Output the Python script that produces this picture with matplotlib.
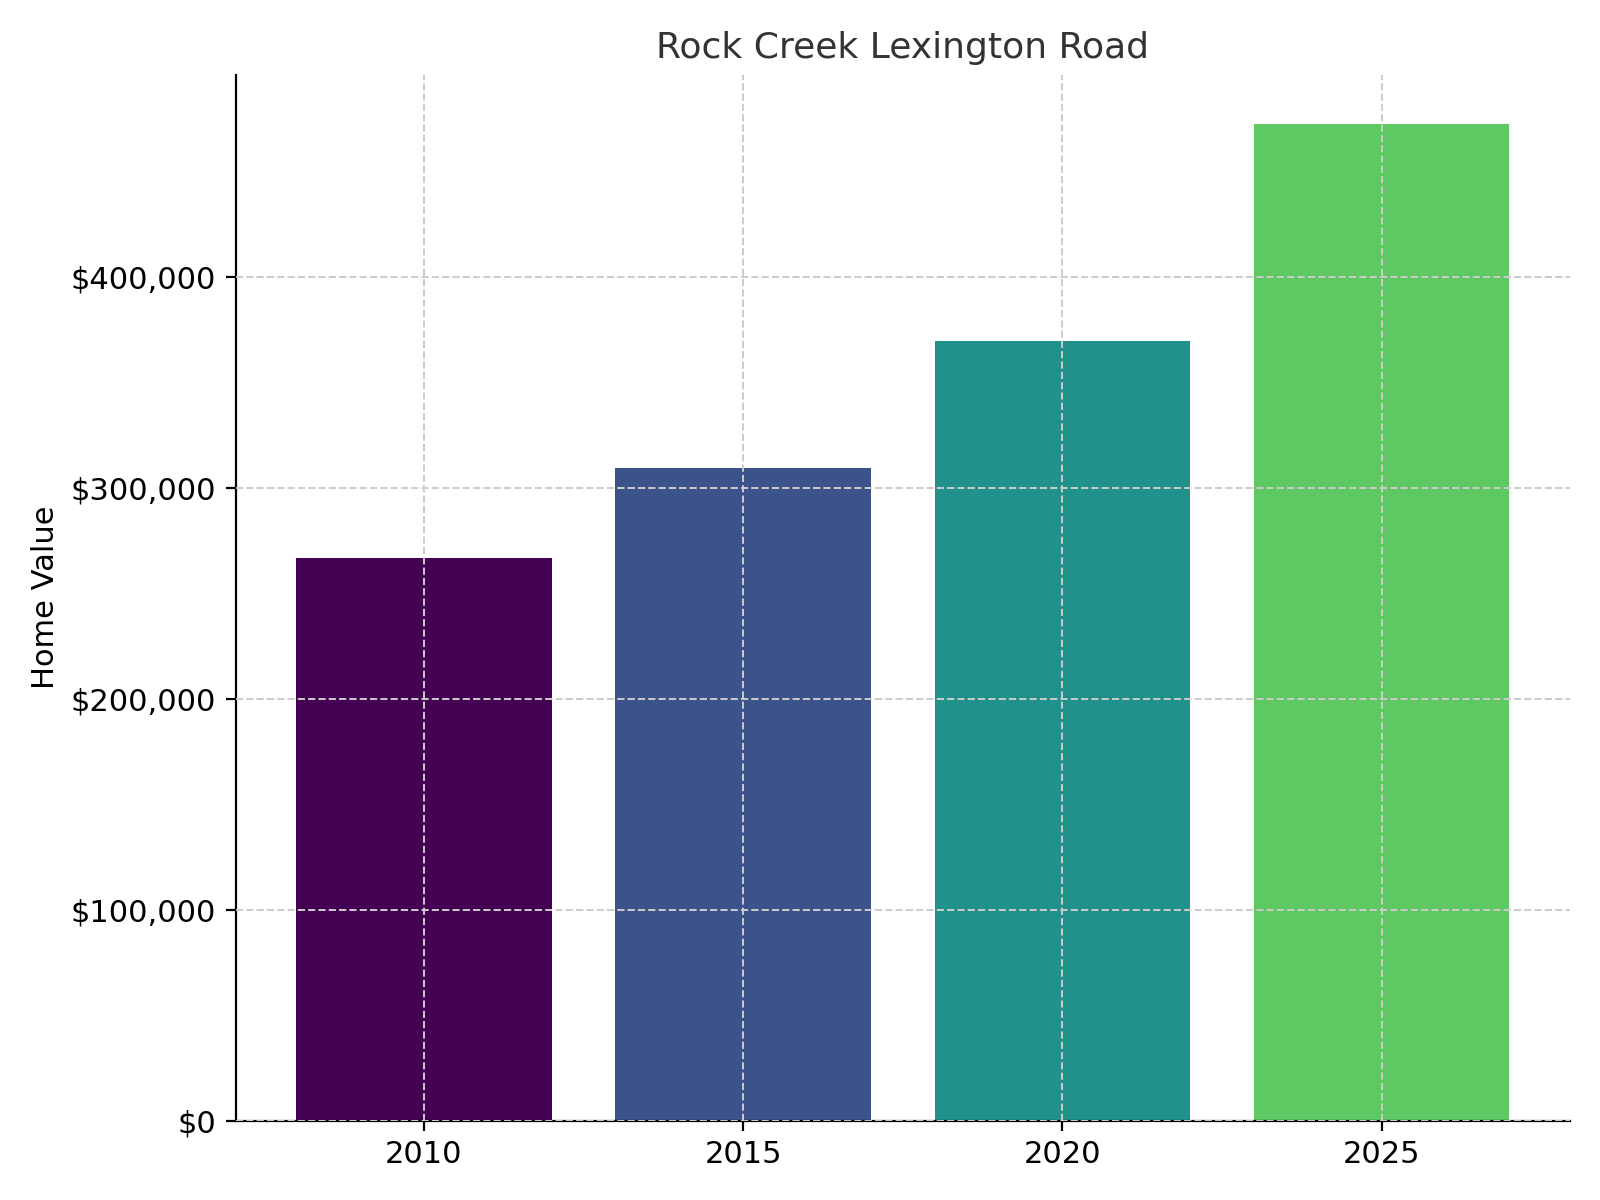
import matplotlib.pyplot as plt
from matplotlib.ticker import FuncFormatter

# Datos
years = ['2010', '2015', '2020', '2025']
values = [267000, 309500, 369700, 472500]
colors = ['#440154', '#3b528b', '#21918c', '#5ec962']

fig, ax = plt.subplots(figsize=(8, 6))
ax.bar(years, values, color=colors, width=0.8, zorder=1)

ax.set_title('Rock Creek Lexington Road', fontsize=13, color='#333333')
ax.set_ylabel('Home Value', fontsize=11)
ax.yaxis.set_major_formatter(FuncFormatter(lambda v, p: f'${v:,.0f}'))
ax.tick_params(labelsize=11)
ax.grid(True, linestyle='--', color='#cccccc', linewidth=0.7, zorder=2)
ax.set_axisbelow(False)
for s in ['top', 'right']:
    ax.spines[s].set_visible(False)

fig.tight_layout()
fig.savefig('out.png', dpi=200)
